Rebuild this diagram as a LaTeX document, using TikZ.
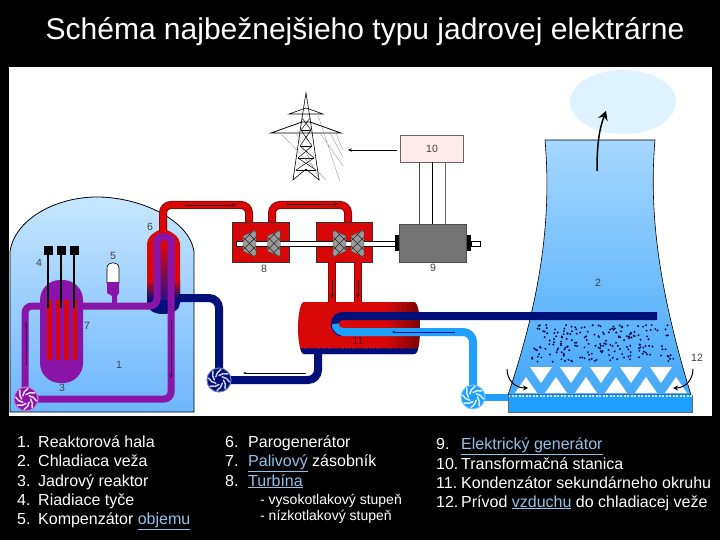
\documentclass[tikz,border=0pt]{standalone}
\usepackage{fontspec}
\setmainfont{Liberation Sans}
\usetikzlibrary{arrows.meta,calc}
\definecolor{hallTop}{HTML}{C6E6FF}
\definecolor{hallBot}{HTML}{6DB6FD}
\definecolor{towerTop}{HTML}{A6D7FF}
\definecolor{towerBot}{HTML}{44A8FA}
\definecolor{cloud}{HTML}{DEF3FF}
\definecolor{purplepipe}{HTML}{8A14A8}
\definecolor{navypipe}{HTML}{00107A}
\definecolor{skypipe}{HTML}{1FA0FF}
\definecolor{steamred}{HTML}{D80808}
\definecolor{linkblue}{HTML}{8FC3E8}
\newcommand{\linkword}[1]{\textcolor{linkblue}{\underline{#1}}}
\tikzset{
  pipe/.style={line width=7pt, rounded corners=7pt},
  widepipe/.style={line width=8pt, rounded corners=10pt},
  steampipe/.style={line width=8pt, rounded corners=8pt, draw=steamred!65!black,
    postaction={draw=steamred, line width=6pt}},
  flowarrow/.style={-{Stealth[length=4pt,width=3pt]}, line width=0.7pt},
  tag/.style={font=\fontsize{10.5}{11}\selectfont, text=black!75, inner sep=0pt},
  legend/.style={font=\fontsize{16}{18}\selectfont, text=white, anchor=base west, inner sep=0pt},
  sublegend/.style={font=\fontsize{14}{16}\selectfont, text=white, anchor=base west, inner sep=0pt},
  pumpwheel/.style={circle, draw=#1!55, line width=1pt, fill=#1, minimum size=24pt, inner sep=0pt},
  casing/.style={fill=steamred, draw=black!80, line width=0.7pt},
  blade/.pic={
    \begin{scope}
      \clip (-6.5,-7.5) -- (6.5,-13.5) -- (6.5,13.5) -- (-6.5,7.5) -- cycle;
      \fill[black!40] (-7,-14) rectangle (7,14);
      \foreach \k in {-27,-18,...,27} {
        \draw[black!85, line width=0.4pt] (\k-14,-14) -- (\k+14,14);
        \draw[black!85, line width=0.4pt] (\k-14,14) -- (\k+14,-14);
      }
    \end{scope}
    \draw[black!70, line width=0.4pt] (-6.5,-7.5) -- (6.5,-13.5) -- (6.5,13.5) -- (-6.5,7.5) -- cycle;
  }
}
\newcommand{\pumpblades}[2]{
  \foreach \a in {0,45,...,315}
    \draw[#2, line width=1.5pt, line cap=round] ($(#1)+(\a:4.5)$) to[bend left=25] ($(#1)+(\a+55:10.5)$);
}
\begin{document}
\begin{tikzpicture}[x=1pt,y=-1pt]
  \useasboundingbox (0,0) rectangle (720,540);
  \fill[black] (0,0) rectangle (720,540);
  \fill[white] (9,67) rectangle (712,416);
  \node[font=\fontsize{30}{33}\selectfont, text=white, inner sep=0pt] (title) at (365,32)
    {Schéma najbežnejšieho typu jadrovej elektrárne};

  \coordinate (mainpump) at (26,399);
  \coordinate (feedpump) at (219,380);
  \coordinate (coolpump) at (473,397);

  % Reactor hall
  \shade[top color=hallTop, bottom color=hallBot, draw=black, line width=0.8pt]
    (10,412) -- (10,252) .. controls (14,220) and (55,197) .. (97,197)
    .. controls (140,197) and (190,220) .. (194,252) -- (194,412) -- cycle;

  % Steam generator
  \fill[steamred] (147,295) -- (147,245) .. controls (147,236) and (155,232) .. (159,230)
    -- (167,230) .. controls (171,232) and (180,236) .. (180,245) -- (180,295) -- cycle;
  \shade[top color=steamred, bottom color=navypipe] (147,280) rectangle (180,300);
  \fill[navypipe] (147,300) -- (180,300) -- (180,303) .. controls (180,310) and (172,314) .. (163,314)
    .. controls (154,314) and (147,310) .. (147,303) -- cycle;
  \shade[top color=steamred, bottom color=navypipe!70!purplepipe]
    (160,250) .. controls (160,245) and (168,245) .. (168,250) -- (168,300) -- (160,300) -- cycle;

  % Primary loop
  \draw[pipe, draw=purplepipe] (40,306) -- (25,306) -- (25,399) -- (171,399) -- (171,247)
    .. controls (171,236) and (157,236) .. (157,247) -- (157,306) -- (83,306);

  % Hot steam line to the turbines
  \draw[steampipe] (163,232) -- (163,205) -- (249,205) -- (249,223);
  \draw[steampipe] (272,223) -- (272,205) -- (348,205) -- (348,223);
  \draw[flowarrow, draw=black!80!red] (185,205) -- (236,205);
  \draw[flowarrow, draw=black!80!red] (287,204) -- (338,204);

  % Reactor vessel
  \fill[purplepipe, rounded corners=20pt] (40,280) rectangle (83,383);
  \foreach \x in {47,55.5,64,72.5}
    \fill[steamred] (\x,300) rectangle +(4.5,60);
  \foreach \x [count=\i] in {48,61,74} {
    \draw[black, line width=1.6pt] (\x,250) -- (\x,308);
    \node[fill=black, minimum size=9pt, inner sep=0pt] (rod\i) at (\x,250) {};
  }

  % Pressurizer
  \fill[white] (107,283) -- (107,268) .. controls (107,261) and (119,261) .. (119,268) -- (119,283) -- cycle;
  \draw[black, line width=0.6pt] (107,283) -- (107,268) .. controls (107,261) and (119,261) .. (119,268) -- (119,283);
  \fill[purplepipe] (107,282) -- (119,282) -- (119,293) -- (117,296) -- (117,305) -- (112,305) -- (112,296) -- (107,293) -- cycle;

  % Feed water back to the generator
  \draw[widepipe, draw=navypipe] (178,298) -- (219,298) -- (feedpump);

  % Power line tower
  \draw[black, line width=0.6pt] (306,93) -- (302,118) -- (293,180) -- (306,169) -- (319,180) -- (310,118) -- cycle;
  \draw[black, line width=0.6pt] (289,114) -- (323,114) -- (306,108) -- cycle;
  \draw[black, line width=0.8pt] (271,133) -- (341,133) -- (310,122) -- (302,122) -- cycle;
  \foreach \ya/\yb/\w/\v in {118/130/4/5,130/146/5/6,146/158/6/8,158/170/8/10} {
    \draw[black, line width=0.5pt] (306-\w,\ya) -- (306+\v,\yb);
    \draw[black, line width=0.5pt] (306+\w,\ya) -- (306-\v,\yb);
    \draw[black, line width=0.5pt] (306-\v,\yb) -- (306+\v,\yb);
  }
  \draw[black!45, line width=0.3pt] (280,133) -- (326,180) (320,133) -- (343,166) (330,133) -- (343,157)
    (318,115) -- (340,182) (296,133) -- (320,180) (336,134) -- (343,150);

  % Transformer
  \node[draw=black!60, fill=red!8, minimum width=63pt, minimum height=27pt, inner sep=0pt,
        font=\fontsize{10.5}{11}\selectfont, text=black!75] (trafo) at (432,149) {10};
  \coordinate (linkend) at (348,150);
  \draw[-{Stealth[length=4pt,width=3.4pt]}, line width=0.6pt] (trafo.west) ++(-3,1) -- (linkend);

  % Generator
  \node[fill=black!55, draw=black!70, minimum width=67pt, minimum height=38pt, inner sep=0pt] (gen) at (433,243) {};
  \draw[black!70, line width=0.6pt] (419,162.5) -- (419,224);
  \draw[black, line width=0.7pt] (432,162.5) -- (432,224);
  \draw[black!60, line width=0.6pt] (445,162.5) -- (445,224);

  % Turbines and shaft
  \draw[casing] (232,222) rectangle (289,262);
  \draw[casing] (316,222) rectangle (372,262);
  \draw[fill=white, draw=black, line width=0.5pt] (236,241) rectangle (395,246);
  \draw[fill=white, draw=black, line width=0.5pt] (471,241) rectangle (480,246.5);
  \pic at (249.5,243.5) {blade};
  \pic at (274,243.5) {blade};
  \pic[xscale=-1] at (339.5,243.5) {blade};
  \pic at (357.5,243.5) {blade};
  \fill[black] (395,235) rectangle (399,251);
  \fill[black] (467,235) rectangle (471,251);

  % Exhaust steam to the condenser
  \draw[steampipe] (332,262) -- (332,303);
  \draw[steampipe] (358,262) -- (358,303);
  \draw[flowarrow, draw=black!80!red] (332,280) -- (332,298);
  \draw[flowarrow, draw=black!80!red] (358,280) -- (358,298);

  % Condenser
  \begin{scope}
    \clip (304,302) -- (414,302) .. controls (419,302) and (420,320) .. (420,328)
      .. controls (420,340) and (419,354) .. (414,354) -- (304,354)
      .. controls (300,354) and (298,340) .. (298,328) .. controls (298,316) and (300,302) .. (304,302) -- cycle;
    \fill[steamred] (296,300) rectangle (385,356);
    \shade[left color=steamred, right color=steamred!55!black] (385,300) rectangle (421,356);
    \fill[navypipe] (296,349) rectangle (421,356);
    \draw[navypipe, line width=1pt, dash pattern=on 1.5pt off 1.5pt] (296,348) -- (421,348);
  \end{scope}
  \node[tag, text=black!60!red] (lbl11) at (358,341) {11};

  % Return from condenser to pump
  \draw[widepipe, draw=navypipe] (318,354) -- (318,380) -- (feedpump);
  \draw[-{Stealth[length=3pt,width=2pt]}, line width=0.4pt, black] (306,373) -- (243,373);

  % Cooling tower
  \shade[top color=towerTop, bottom color=towerBot, draw=black, line width=0.6pt]
    (545,140) -- (655,140) .. controls (648,220) and (662,300) .. (691,395)
    -- (508,395) .. controls (540,300) and (552,220) .. (545,140) -- cycle;
  \fill[skypipe] (508,395) rectangle (692,412);
  \draw[hallTop, line width=1.2pt, dash pattern=on 2pt off 1.5pt] (508,396) -- (692,396);
  \draw[black!60, line width=0.6pt] (508,395) -- (508,412) -- (692,412) -- (692,395);
  \pgfmathsetseed{11}
  \foreach \i in {1,...,200} {
    \pgfmathsetmacro{\dy}{325+rnd*37}
    \pgfmathsetmacro{\dx}{538-(\dy-325)*0.2+rnd*(130+(\dy-325)*0.4)}
    \fill[navypipe!70!black] (\dx,\dy) circle (1.1);
  }
  \foreach \x in {541,571,601,631,661}
    \fill[white] (\x-11,367) -- (\x+11,367) -- (\x,383) -- cycle;
  \foreach \x in {526,556,586,616,646,676}
    \fill[white] (\x-11,393) -- (\x+11,393) -- (\x,377) -- cycle;

  % Cooling water through the condenser
  \draw[line width=8pt, draw=navypipe] (657,316) -- (344,316) .. controls (338,316) and (335,319) .. (335,324);
  \draw[line width=8pt, draw=skypipe] (335,324) .. controls (335,329) and (338,332) .. (344,332);
  \draw[line width=1pt, draw=navypipe] (331,323) .. controls (331,329) and (335,335) .. (341,336);
  \draw[widepipe, draw=skypipe] (coolpump) -- (473,332) -- (343,332);
  \draw[line width=7pt, draw=skypipe] (coolpump) -- (508,397);
  \draw[-{Stealth[length=3pt,width=2.5pt]}, line width=0.5pt, navypipe] (455,332) -- (392,332);

  % Pumps
  \node[pumpwheel=purplepipe] (pumpa) at (mainpump) {};
  \node[pumpwheel=navypipe] (pumpb) at (feedpump) {};
  \node[pumpwheel=skypipe] (pumpc) at (coolpump) {};
  \pumpblades{pumpa}{white!85!purplepipe}
  \pumpblades{pumpb}{white!80!navypipe}
  \pumpblades{pumpc}{white!85!skypipe}

  % Cloud and air arrows
  \fill[cloud] (623,102) ellipse (53 and 32);
  \draw[-{Stealth[length=9pt,width=10pt]}, line width=1.5pt] (597,171) .. controls (597,145) and (599,130) .. (606,111);
  \draw[-{Stealth[length=5pt,width=5pt]}, line width=1pt] (507,369) .. controls (507,380) and (515,388) .. (528,388);
  \draw[-{Stealth[length=5pt,width=5pt]}, line width=1pt] (693,369) .. controls (693,380) and (685,388) .. (673,388);

  % Flow arrows on primary loop
  \draw[flowarrow, draw=purplepipe!50!black, line width=0.4pt] (26,365) -- (26,322);
  \draw[flowarrow, draw=purplepipe!50!black, line width=0.4pt] (171,320) -- (171,378);

  % Numbers
  \node[tag] (lbl1) at (119,365) {1};
  \node[tag] (lbl2) at (598,283) {2};
  \node[tag] (lbl3) at (62,388) {3};
  \node[tag] (lbl4) at (39,263) {4};
  \node[tag] (lbl5) at (113,256) {5};
  \node[tag] (lbl6) at (150,227) {6};
  \node[tag] (lbl7) at (87,326) {7};
  \node[tag] (lbl8) at (264,269) {8};
  \node[tag] (lbl9) at (433,268) {9};
  \node[tag] (lbl12) at (697,358) {12};

  % Legend
  \foreach \n/\t/\y in {1/Reaktorová hala/447,2/Chladiaca veža/466,3/Jadrový reaktor/486,
                        4/Riadiace tyče/505,5/Kompenzátor \linkword{objemu}/524} {
    \node[legend] (num\n) at (17,\y) {\n.};
    \node[legend] (item\n) at (38,\y) {\t};
  }
  \foreach \n/\t/\y in {6/Parogenerátor/447,7/\linkword{Palivový} zásobník/466,8/\linkword{Turbína}/486} {
    \node[legend] (num\n) at (225,\y) {\n.};
    \node[legend] (item\n) at (248,\y) {\t};
  }
  \node[sublegend] (subhigh) at (260,504) {- vysokotlakový stupeň};
  \node[sublegend] (sublow) at (260,520) {- nízkotlakový stupeň};
  \foreach \n/\t/\y in {9/\linkword{Elektrický generátor}/449,10/Transformačná stanica/469,
                        11/Kondenzátor sekundárneho okruhu/488,12/Prívod \linkword{vzduchu} do chladiacej veže/507} {
    \node[legend] (num\n) at (436,\y) {\n.};
    \node[legend] (item\n) at (461,\y) {\t};
  }
\end{tikzpicture}
\end{document}
